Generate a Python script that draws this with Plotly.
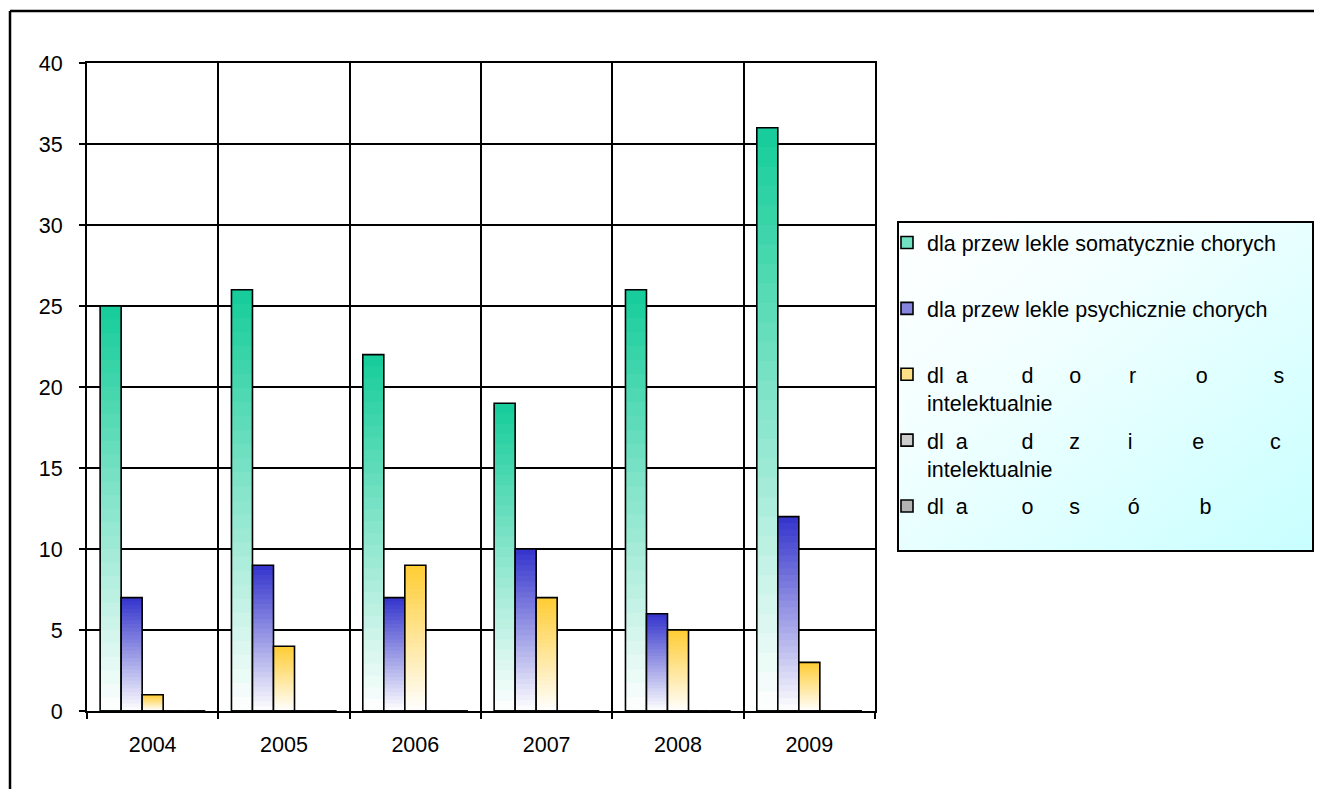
import base64
import plotly.graph_objects as go

# ---------------- data ----------------
years = ["2004", "2005", "2006", "2007", "2008", "2009"]
somatycznie = [25, 26, 22, 19, 26, 36]
psychicznie = [7, 9, 7, 10, 6, 12]
dorosli = [1, 4, 9, 7, 5, 3]
dzieci = [0, 0, 0, 0, 0, 0]
osoby = [0, 0, 0, 0, 0, 0]


def sp(n):
    return "\u00a0" * n


name_1 = "dla przew lekle somatycznie chorych<br>" + sp(1)
name_2 = "dla przew lekle psychicznie chorych<br>" + sp(1)
name_3 = ("dl" + sp(2) + "a" + sp(9) + "d" + sp(6) + "o" + sp(8) + "r" + sp(10)
          + "o" + sp(11) + "s<br>intelektualnie")
name_4 = ("dl" + sp(2) + "a" + sp(9) + "d" + sp(6) + "z" + sp(8) + "i" + sp(10)
          + "e" + sp(11) + "c<br>intelektualnie")
name_5 = "dl" + sp(2) + "a" + sp(9) + "o" + sp(6) + "s" + sp(8) + "ó" + sp(10) + "b<br>" + sp(1)

series_values = [somatycznie, psychicznie, dorosli, dzieci, osoby]
series_names = [name_1, name_2, name_3, name_4, name_5]
top_colors = ["#14CC99", "#3333CC", "#FFCC33", "#AAAAAA", "#808080"]

# ---------------- geometry helpers (window pixels -> paper) ----------------
W, H = 1322, 789
OFF = 8  # default page body margin
L, R, T, B = 87, 875, 63, 711


def px(p):
    return (p - L) / (R - L)


def py(p):
    return (B - p) / (B - T)


def hex_rgb(h):
    h = h.lstrip("#")
    return tuple(int(h[i:i + 2], 16) for i in (0, 2, 4))


def mix(c, f):
    r, g, b = hex_rgb(c)
    return "rgb(%d,%d,%d)" % (round(255 + (r - 255) * f), round(255 + (g - 255) * f), round(255 + (b - 255) * f))


FONT = "Arial, 'Liberation Sans', sans-serif"
FS = 21.5
K = 30

fig = go.Figure()
for s, (vals, name, col) in enumerate(zip(series_values, series_names, top_colors)):
    og = "s%d" % s
    # gradient bands (top colour fading to white at the base)
    for k in range(K):
        frac = 1 - k / K
        f = 1 - (k + 0.5) / K
        fig.add_trace(go.Bar(
            x=years, y=[v * frac for v in vals], offsetgroup=og,
            marker=dict(color=mix(col, f), line=dict(width=0)),
            showlegend=False, hoverinfo="skip", legendgroup=og,
        ))
    # outline
    fig.add_trace(go.Bar(
        x=years, y=vals, offsetgroup=og, name=name,
        marker=dict(color="rgba(0,0,0,0)", line=dict(color="black", width=1.6)),
        showlegend=False, legendgroup=og,
    ))
    # legend entry
    fig.add_trace(go.Bar(
        x=years, y=[0] * len(years), offsetgroup=og, name=name,
        marker=dict(color=mix(col, 0.6), line=dict(color="black", width=1.6)),
        showlegend=True, legendgroup=og, hoverinfo="skip",
    ))

svg = ("<svg xmlns='http://www.w3.org/2000/svg' width='415' height='329'>"
       "<defs><linearGradient id='g' x1='0' y1='0' x2='1' y2='1'>"
       "<stop offset='0' stop-color='#ffffff'/><stop offset='0.35' stop-color='#f2ffff'/>"
       "<stop offset='1' stop-color='#c8ffff'/></linearGradient></defs>"
       "<rect width='415' height='329' fill='url(#g)'/></svg>")
src = "data:image/svg+xml;base64," + base64.b64encode(svg.encode()).decode()

fig.update_layout(
    width=W - OFF, height=H - OFF,
    margin=dict(l=L - OFF, r=W - R, t=T - OFF, b=H - B, pad=0),
    paper_bgcolor="white", plot_bgcolor="white",
    barmode="group", bargap=0.2, bargroupgap=0,
    font=dict(family=FONT, size=FS, color="black"),
    showlegend=True,
    legend=dict(
        x=px(887), y=py(222), xanchor="left", yanchor="top",
        bgcolor="rgba(0,0,0,0)", borderwidth=0,
        font=dict(family=FONT, size=FS, color="black"),
        traceorder="grouped", tracegroupgap=7, valign="top",
        itemwidth=30,
    ),
    xaxis=dict(
        type="category", tickson="boundaries",
        showgrid=True, gridcolor="black", gridwidth=1.5,
        showline=True, linecolor="black", linewidth=2, mirror=True,
        ticks="outside", ticklen=6, tickcolor="black", tickwidth=1.5,
        ticklabelstandoff=13, tickfont=dict(family=FONT, size=FS),
        zeroline=False, fixedrange=True,
    ),
    yaxis=dict(
        range=[0, 40], dtick=5, tick0=0,
        showgrid=True, gridcolor="black", gridwidth=1.5,
        showline=True, linecolor="black", linewidth=2, mirror=True,
        ticks="outside", ticklen=6, tickcolor="black", tickwidth=1.5,
        ticklabelstandoff=12, tickfont=dict(family=FONT, size=FS),
        zeroline=False, fixedrange=True,
    ),
    images=[dict(source=src, xref="paper", yref="paper",
                 x=px(898), y=py(222), sizex=px(1313) - px(898), sizey=py(222) - py(551),
                 xanchor="left", yanchor="top", sizing="stretch", layer="below")],
    shapes=[
        dict(type="rect", xref="paper", yref="paper",
             x0=px(898), x1=px(1313), y0=py(551), y1=py(222),
             line=dict(color="black", width=2), fillcolor="rgba(0,0,0,0)", layer="above"),
        dict(type="line", xref="paper", yref="paper",
             x0=px(10), x1=px(1340), y0=py(11), y1=py(11),
             line=dict(color="black", width=2.5)),
        dict(type="line", xref="paper", yref="paper",
             x0=px(10), x1=px(10), y0=py(11), y1=py(800),
             line=dict(color="black", width=2.5)),
    ],
)

fig.write_html("out.html")
